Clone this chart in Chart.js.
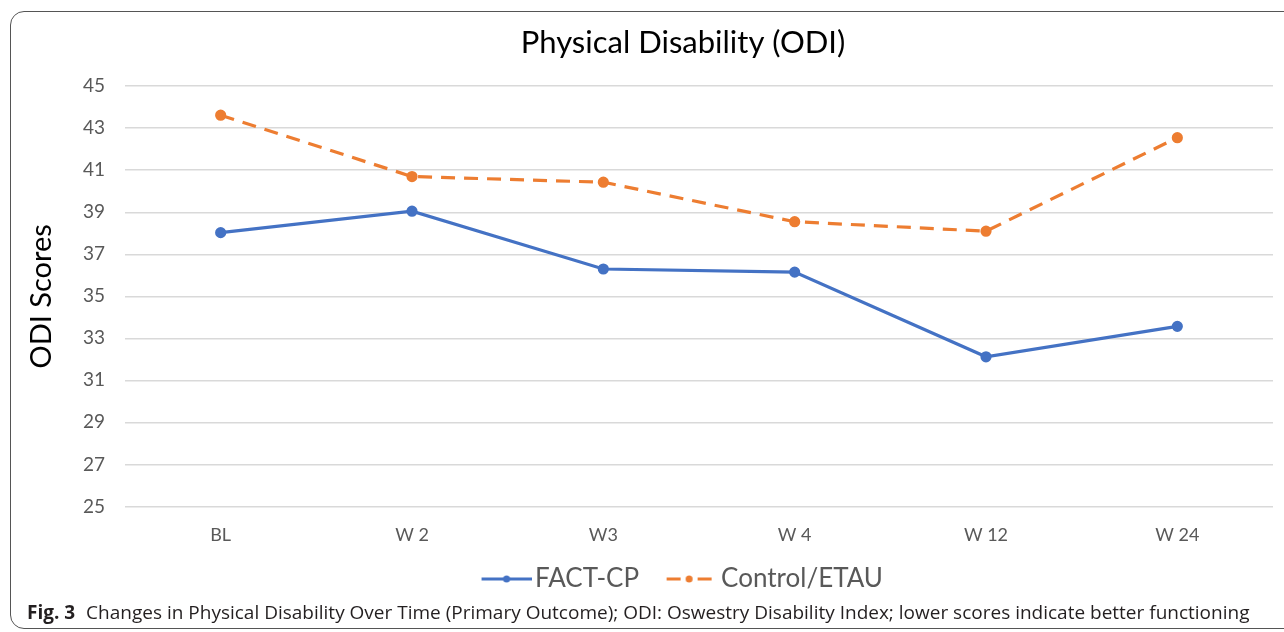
<!DOCTYPE html>
<html>
<head>
<meta charset="utf-8">
<script src="https://cdn.jsdelivr.net/npm/chart.js@4.4.1/dist/chart.umd.min.js"></script>
<style>
  html, body { margin: 0; padding: 0; background: #fff; overflow: hidden; }
  #wrap { position: relative; width: 1284px; height: 632px; overflow: hidden; }
  #frame {
    position: absolute; left: 10px; top: 11px; width: 1320px; height: 618px;
    border: 1.5px solid #555; border-radius: 14px; box-sizing: border-box;
  }
  #box { position: absolute; left: 0; top: 0; width: 1354px; height: 615px; }
  #caption {
    position: absolute; left: 27px; top: 599px; white-space: nowrap;
    font-family: "Open Sans", sans-serif; font-size: 19px; color: #231f20;
  }
  #caption b { font-weight: 700; margin-right: 6px; }
</style>
</head>
<body>
<div id="wrap">
  <div id="frame"></div>
  <div id="box"><canvas id="odiChart"></canvas></div>
  <div id="caption"><b>Fig. 3</b> Changes in Physical Disability Over Time (Primary Outcome); ODI: Oswestry Disability Index; lower scores indicate better functioning</div>
</div>
<script>
// ---- data ----
const timePoints = ['BL', 'W 2', 'W3', 'W 4', 'W 12', 'W 24'];
const factCp = [38.03, 39.05, 36.3, 36.15, 32.12, 33.57];
const controlEtau = [43.62, 40.7, 40.43, 38.55, 38.1, 42.55];
const yTicks = [25, 27, 29, 31, 33, 35, 37, 39, 41, 43, 45];

const BLUE = '#4472C4';
const ORANGE = '#ED7D31';

// legend markers (line + dot) inside a wider transparent image
function legendMarker(color, dashed) {
    const c = document.createElement('canvas');
    c.width = 73; c.height = 12;
    const g = c.getContext('2d');
    g.strokeStyle = color;
    g.fillStyle = color;
    g.lineWidth = 3;
    g.beginPath();
    if (dashed) {
        g.moveTo(22, 6); g.lineTo(36, 6);
        g.moveTo(53, 6); g.lineTo(67, 6);
    } else {
        g.moveTo(23, 6); g.lineTo(73, 6);
    }
    g.stroke();
    g.beginPath();
    g.arc(dashed ? 44.5 : 48, 6, 3.5, 0, Math.PI * 2);
    g.fill();
    return c;
}

// pull the legend up closer to the axis labels (and a bit to the left)
const legendNudge = {
    id: 'legendNudge',
    afterLayout(chart) {
        const lg = chart.legend;
        lg.top -= 13; lg.bottom -= 13;
        lg.left -= 7.5; lg.right -= 7.5;
    }
};

const ctx = document.getElementById('odiChart').getContext('2d');
new Chart(ctx, {
    type: 'line',
    data: {
        labels: timePoints,
        datasets: [{
            label: 'FACT-CP',
            data: factCp,
            borderColor: BLUE,
            backgroundColor: BLUE,
            borderWidth: 3.2,
            pointRadius: 4,
            pointHoverRadius: 4
        }, {
            label: 'Control/ETAU',
            data: controlEtau,
            borderColor: ORANGE,
            backgroundColor: ORANGE,
            borderWidth: 3.2,
            borderDash: [14, 9],
            pointRadius: 4,
            pointHoverRadius: 4
        }]
    },
    plugins: [legendNudge],
    options: {
        responsive: true,
        maintainAspectRatio: false,
        animation: false,
        layout: { padding: { left: 12, right: 0, top: 0, bottom: 0 } },
        plugins: {
            title: {
                display: true,
                text: 'Physical Disability (ODI)',
                color: '#000',
                font: { family: 'Lato', size: 31, weight: 'normal' },
                padding: { top: 24, bottom: 25 }
            },
            legend: {
                position: 'bottom',
                labels: {
                    usePointStyle: true,
                    pointStyleWidth: 54,
                    padding: 15,
                    color: '#595959',
                    font: { family: 'Lato', size: 26 },
                    generateLabels: chart => chart.data.datasets.map((ds, i) => ({
                        text: ds.label,
                        fontColor: '#595959',
                        pointStyle: legendMarker(i === 0 ? BLUE : ORANGE, i === 1),
                        datasetIndex: i,
                        lineWidth: 0,
                        hidden: false
                    }))
                }
            },
            tooltip: { enabled: false }
        },
        scales: {
            x: {
                offset: true,
                grid: { display: false, drawTicks: false },
                border: { display: false },
                ticks: {
                    color: '#595959',
                    padding: 18,
                    font: { family: 'Lato', size: 18 }
                }
            },
            y: {
                min: 25,
                max: 45,
                afterBuildTicks: axis => { axis.ticks = yTicks.map(v => ({ value: v })); },
                afterFit: axis => { axis.width = 113; },
                grid: { color: '#d9d9d9', lineWidth: 1.5, drawTicks: false },
                border: { display: false },
                ticks: {
                    color: '#595959',
                    padding: 20,
                    font: { family: 'Lato', size: 19 }
                },
                title: {
                    display: true,
                    text: 'ODI Scores',
                    color: '#000',
                    font: { family: 'Lato', size: 29 },
                    padding: { top: 12, bottom: 0 }
                }
            },
            // empty right-hand space, the original chart is wider than the crop
            yRight: {
                position: 'right',
                afterFit: axis => { axis.width = 81; },
                grid: { display: false, drawTicks: false },
                border: { display: false },
                ticks: { display: false }
            }
        }
    }
});
</script>
</body>
</html>
